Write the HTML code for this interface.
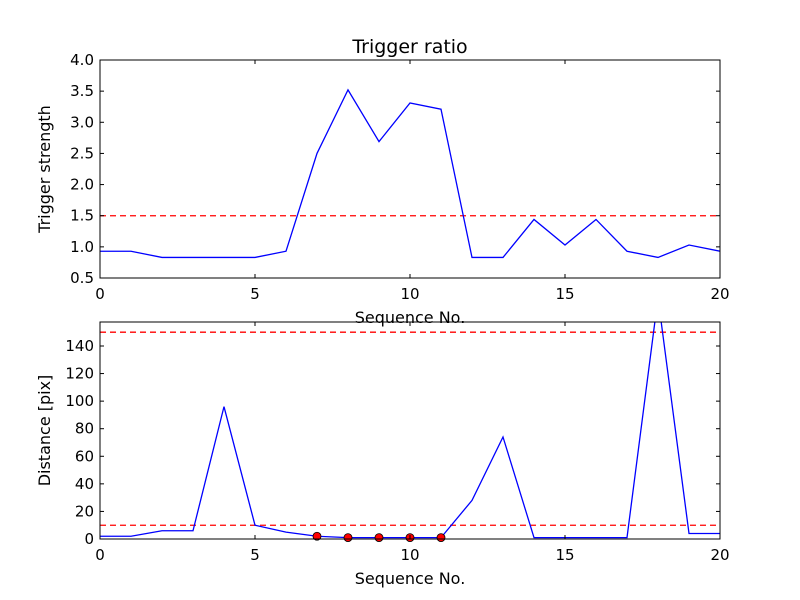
<!DOCTYPE html>
<html><head><meta charset="utf-8"><style>
body{margin:0;background:#fff;}
svg{display:block;font-family:"DejaVu Sans","Liberation Sans",sans-serif;}
</style></head><body>
<svg id="chart" width="800" height="600"></svg>
<script>
const seq = [0,1,2,3,4,5,6,7,8,9,10,11,12,13,14,15,16,17,18,19,20];
const strength = [0.93,0.93,0.83,0.83,0.83,0.83,0.93,2.5,3.52,2.69,3.31,3.21,0.83,0.83,1.44,1.03,1.44,0.93,0.83,1.03,0.93];
const strengthThreshold = 1.5;
const distance = [2,2,6,6,96,10,5,2,1,1,1,1,28,74,1,1,1,1,175,4,4];
const distanceThresholds = [150,10];
const markerIdx = [7,8,9,10,11];
const xTicks = [0,5,10,15,20];
const topYTicks = [0.5,1.0,1.5,2.0,2.5,3.0,3.5,4.0];
const botYTicks = [0,20,40,60,80,100,120,140];

const NS="http://www.w3.org/2000/svg";
const svgEl=document.getElementById('chart');
function mk(tag,attrs,parent){const e=document.createElementNS(NS,tag);for(const k in attrs)e.setAttribute(k,attrs[k]);(parent||svgEl).appendChild(e);return e;}

function panel(name,L,T,R,B,ymin,ymax,yTicks,yFmt,ylabel,title){
  const g=mk('g',{});
  
  
  const cid='clip-'+name;
  const cp=mk('clipPath',{id:cid},g);mk('rect',{x:L,y:T,width:R-L,height:B-T},cp);
  const sx=v=>L+(v-0)/(20-0)*(R-L);
  const sy=v=>B-(v-ymin)/(ymax-ymin)*(B-T);
  return {g,sx,sy,cid,L,T,R,B,yTicks,yFmt,ylabel,title,ymin,ymax};
}
function frame(p){
  const {g,sx,sy,L,T,R,B}=p;
  const box=mk('rect',{x:L,y:T,width:R-L,height:B-T,fill:'none',stroke:'#000','stroke-width':1},g);
  
  
  xTicks.forEach(v=>{
    const x=sx(v);
    mk('line',{x1:x,y1:B,x2:x,y2:B-4,stroke:'#000'},g);
    mk('line',{x1:x,y1:T,x2:x,y2:T+4,stroke:'#000'},g);
    const t=mk('text',{x:x,y:B+21,'text-anchor':'middle','font-size':15},g);
    t.textContent=v;
    
    
  });
  p.yTicks.forEach(v=>{
    const y=sy(v);
    mk('line',{x1:L,y1:y,x2:L+4,y2:y,stroke:'#000'},g);
    mk('line',{x1:R,y1:y,x2:R-4,y2:y,stroke:'#000'},g);
    const t=mk('text',{x:L-6,y:y+5,'text-anchor':'end','font-size':15},g);
    t.textContent=p.yFmt(v);
    
    
  });
  const xl=mk('text',{x:(L+R)/2,y:B+45,'text-anchor':'middle','font-size':16},g);
  xl.textContent='Sequence No.';
  
  
  const yl=mk('text',{x:0,y:0,'text-anchor':'middle','font-size':16,transform:`translate(${L-50},${(T+B)/2}) rotate(-90)`},g);
  yl.textContent=p.ylabel;
  
  
  if(p.title){const tt=mk('text',{x:(L+R)/2,y:T-7,'text-anchor':'middle','font-size':19},g);tt.textContent=p.title;
    
    }
}
function line(p,vals,name){
  const pts=vals.map((v,i)=>p.sx(seq[i])+','+p.sy(v)).join(' ');
  const pl=mk('polyline',{points:pts,fill:'none',stroke:'#0000ff','stroke-width':1.3,'clip-path':`url(#${p.cid})`},p.g);
  
  
}
function hline(p,v,name){
  const l=mk('line',{x1:p.L,x2:p.R,y1:p.sy(v),y2:p.sy(v),stroke:'#ff0000','stroke-width':1.3,'stroke-dasharray':'6,4'},p.g);
  
  
}

const topPanel=panel('trigger-strength-panel',100,60,720,278,0.5,4.0,topYTicks,v=>v.toFixed(1),'Trigger strength','Trigger ratio');
hline(topPanel,strengthThreshold,'strength-threshold-line');
line(topPanel,strength,'trigger-strength-line');
frame(topPanel);

const botPanel=panel('distance-panel',100,322,720,539,0,157.4,botYTicks,v=>String(v),'Distance [pix]',null);
distanceThresholds.forEach(v=>hline(botPanel,v,'distance-threshold-line'));
line(botPanel,distance,'distance-line');
markerIdx.forEach(i=>{
  const c=mk('circle',{cx:botPanel.sx(seq[i]),cy:botPanel.sy(distance[i]),r:4,fill:'#ff0000',stroke:'#000','stroke-width':0.8},botPanel.g);
  
  
});
frame(botPanel);
</script>
</body></html>
